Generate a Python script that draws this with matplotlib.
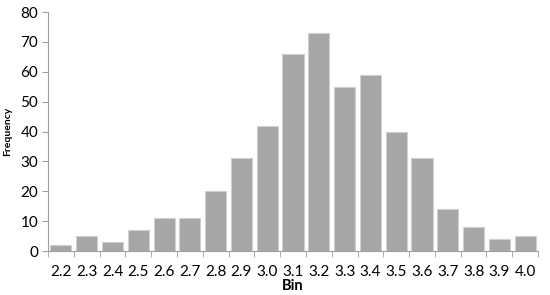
import matplotlib
matplotlib.use("Agg")
import matplotlib.pyplot as plt
import numpy as np

bins = ["2.2", "2.3", "2.4", "2.5", "2.6", "2.7", "2.8", "2.9", "3.0", "3.1",
        "3.2", "3.3", "3.4", "3.5", "3.6", "3.7", "3.8", "3.9", "4.0"]
freq = [2, 5, 3, 7, 11, 11, 20, 31, 42, 66, 73, 55, 59, 40, 31, 14, 8, 4, 5]

plt.rcParams["font.family"] = ["Lato", "DejaVu Sans"]

fig = plt.figure(figsize=(5.5, 2.95), dpi=100)
ax = fig.add_axes([0.0873, 0.149, 0.891, 0.81])

x = np.arange(len(bins))
ax.bar(x, freq, width=0.82, color="#A6A6A6", edgecolor="#D0D0D0", linewidth=0.8)

ax.set_xlim(-0.5, len(bins) - 0.5)
ax.set_ylim(0, 80)
ax.set_yticks(range(0, 81, 10))
ax.set_xticks(x)
ax.set_xticklabels(bins)
ax.set_xticks(np.arange(-0.5, len(bins), 1), minor=True)
ax.tick_params(axis="x", which="major", length=0, pad=10, labelsize=11)
ax.tick_params(axis="x", which="minor", length=4, color="#A0A0A0", direction="out")
ax.tick_params(axis="y", length=4, color="#A0A0A0", labelsize=11, pad=3)

for s in ["top", "right"]:
    ax.spines[s].set_visible(False)
for s in ["left", "bottom"]:
    ax.spines[s].set_color("#A0A0A0")

ax.set_xlabel("Bin", fontweight="bold", fontsize=10.5, labelpad=0)
ax.set_ylabel("Frequency", fontweight="bold", fontsize=7.5, labelpad=6)

fig.savefig("out.png", dpi=100)
